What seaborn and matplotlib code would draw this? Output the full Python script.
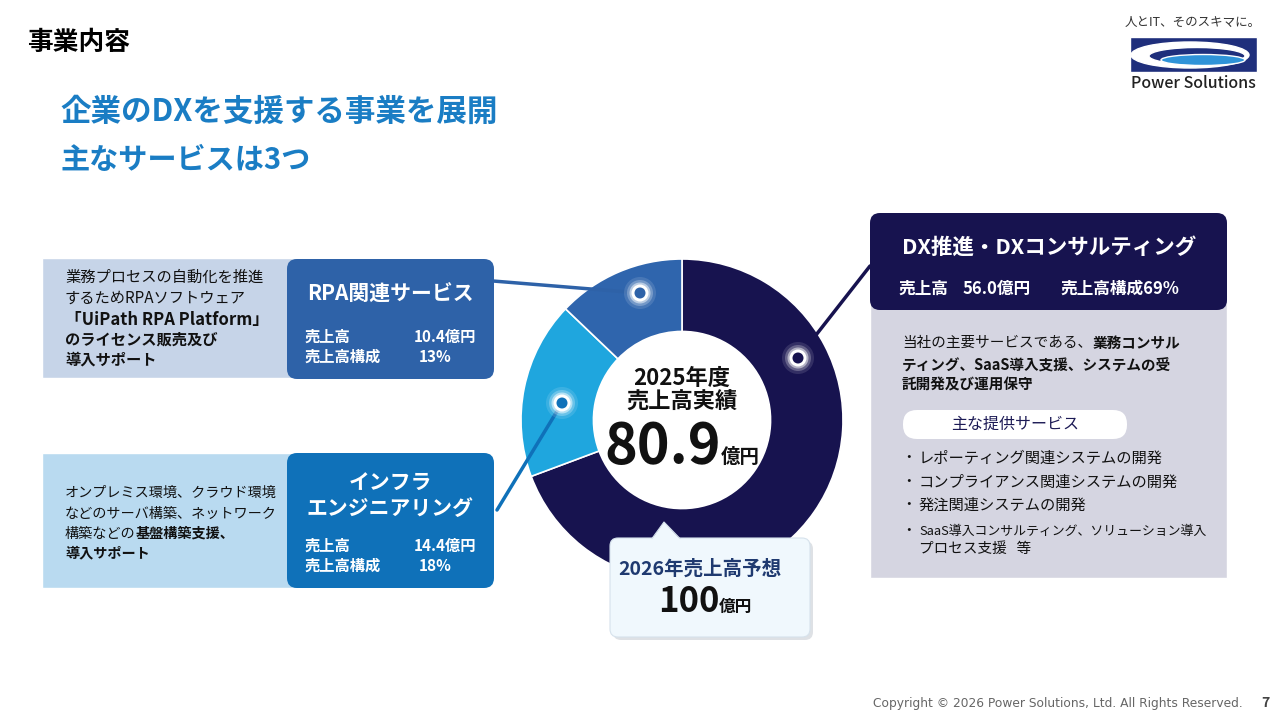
import matplotlib
matplotlib.use("Agg")
import matplotlib.pyplot as plt
import seaborn as sns
from matplotlib.patches import FancyBboxPatch, Rectangle, Circle, Ellipse, Polygon

# ---- data -------------------------------------------------------------
segments = ["DX推進・DXコンサルティング", "インフラエンジニアリング", "RPA関連サービス"]
sales = [56.0, 14.4, 10.4]          # 億円
shares = [69, 18, 13]               # %
seg_colors = ["#17134f", "#1fa6de", "#2f65ad"]
total_2025 = 80.9
forecast_2026 = 100

sns.set_theme(style="white")
plt.rcParams["font.family"] = ["Noto Sans CJK JP", "DejaVu Sans"]

W, H = 1280, 720
fig = plt.figure(figsize=(12.8, 7.2), dpi=100)
fig.patch.set_facecolor("white")


def pixel_axes():
    a = fig.add_axes([0, 0, 1, 1])
    a.set_xlim(0, W)
    a.set_ylim(H, 0)
    a.axis("off")
    a.patch.set_alpha(0)
    return a


def rbox(ax, x0, y0, x1, y1, color, r=8, z=1, **kw):
    p = FancyBboxPatch((x0, y0), x1 - x0, y1 - y0,
                       boxstyle=f"round,pad=0,rounding_size={r}",
                       facecolor=color, edgecolor=kw.pop("ec", "none"),
                       zorder=z, **kw)
    ax.add_patch(p)
    return p


def rich(ax, x, y, parts, ha="left", va="center", z=5):
    """parts: list of (text, size, weight, color) placed side by side"""
    rend = fig.canvas.get_renderer()
    inv = ax.transData.inverted()
    items = []
    cx = x
    for s, size, weight, color in parts:
        t = ax.text(cx, y, s, fontsize=size, fontweight=weight, color=color,
                    ha="left", va=va, zorder=z)
        bb = t.get_window_extent(renderer=rend)
        cx = inv.transform((bb.x1, bb.y0))[0]
        items.append(t)
    total = cx - x
    if ha == "center":
        for t in items:
            px, py = t.get_position()
            t.set_position((px - total / 2, py))
    return items


ax = pixel_axes()

# ---- headers ----------------------------------------------------------
ax.text(27, 42, "事業内容", fontsize=18.5, fontweight="bold", color="black", va="center")
ax.text(60, 112, "企業のDXを支援する事業を展開", fontsize=22, fontweight="bold",
        color="#1a7dc4", va="center")
ax.text(60, 160, "主なサービスは3つ", fontsize=21, fontweight="bold",
        color="#1a7dc4", va="center")

# logo
ax.text(1193, 22, "人とIT、そのスキマに。", fontsize=9, color="#333333",
        ha="center", va="center")
ax.add_patch(Rectangle((1130, 37), 127, 35, facecolor="#1f2f7c", zorder=2))
ax.add_patch(Ellipse((1190, 55), 118, 26, facecolor="white", zorder=3))
ax.add_patch(Ellipse((1197, 56), 96, 17, facecolor="#1f2f7c", zorder=4))
ax.add_patch(Ellipse((1203, 60), 84, 11, facecolor="#2f93d8", zorder=5))
ax.text(1193, 84, "Power Solutions", fontsize=11.5, fontweight="medium", color="#222222",
        ha="center", va="center")

# ---- left boxes -------------------------------------------------------
dark_rpa, dark_inf = "#2e62a8", "#0f71b9"
ax.add_patch(Rectangle((42, 258), 260, 120, facecolor="#c6d4e8", zorder=1))
rbox(ax, 287, 259, 494, 379, dark_rpa, r=10, z=2)
ax.add_patch(Rectangle((42, 453), 260, 135, facecolor="#b9daf0", zorder=1))
rbox(ax, 287, 453, 494, 588, dark_inf, r=10, z=2)

rpa_lines = [("業務プロセスの自動化を推進", "normal", 11), ("するためRPAソフトウェア", "normal", 11),
             ("「UiPath RPA Platform」", "bold", 12), ("のライセンス販売及び", "bold", 11),
             ("導入サポート", "bold", 11)]
for (s, w, fs), yy in zip(rpa_lines, [277, 298, 320, 340, 360]):
    ax.text(65, yy, s, fontsize=fs, fontweight=w, color="#111111", va="center")

inf_lines = [[("オンプレミス環境、クラウド環境", "normal")],
             [("などのサーバ構築、ネットワーク", "normal")],
             [("構築などの", "normal"), ("基盤構築支援、", "bold")],
             [("導入サポート", "bold")]]
for parts, yy in zip(inf_lines, [493, 514, 534, 553]):
    rich(ax, 65, yy, [(s, 10.2, w, "#111111") for s, w in parts])

ax.text(390, 294, segments[2], fontsize=15, fontweight="bold", color="white",
        ha="center", va="center")
ax.text(305, 337, "売上高", fontsize=11, fontweight="bold", color="white", va="center")
ax.text(476, 337, f"{sales[2]:.1f}億円", fontsize=11, fontweight="bold", color="white",
        ha="right", va="center")
ax.text(305, 357, "売上高構成", fontsize=11, fontweight="bold", color="white", va="center")
ax.text(452, 357, f"{shares[2]}%", fontsize=11, fontweight="bold", color="white",
        ha="right", va="center")

ax.text(390, 482, "インフラ", fontsize=15, fontweight="bold", color="white",
        ha="center", va="center")
ax.text(390, 508, "エンジニアリング", fontsize=15, fontweight="bold", color="white",
        ha="center", va="center")
ax.text(305, 546, "売上高", fontsize=11, fontweight="bold", color="white", va="center")
ax.text(476, 546, f"{sales[1]:.1f}億円", fontsize=11, fontweight="bold", color="white",
        ha="right", va="center")
ax.text(305, 566, "売上高構成", fontsize=11, fontweight="bold", color="white", va="center")
ax.text(452, 566, f"{shares[1]}%", fontsize=11, fontweight="bold", color="white",
        ha="right", va="center")

# ---- right box --------------------------------------------------------
ax.add_patch(Rectangle((870, 296), 357, 282, facecolor="#d5d5e1", zorder=1))
rbox(ax, 870, 213, 1227, 310, seg_colors[0], r=10, z=2)
ax.text(1049, 247, segments[0], fontsize=15.5, fontweight="bold", color="white",
        ha="center", va="center")
ax.text(898, 289, "売上高", fontsize=12, fontweight="bold", color="white", va="center")
ax.text(963, 289, f"{sales[0]:.1f}億円", fontsize=12, fontweight="bold", color="white",
        va="center")
ax.text(1060, 289, f"売上高構成{shares[0]}%", fontsize=12, fontweight="bold",
        color="white", va="center")

dx_desc = [[("当社の主要サービスである、", "normal"), ("業務コンサル", "bold")],
           [("ティング、SaaS導入支援、システムの受", "bold")],
           [("託開発及び運用保守", "bold")]]
for parts, yy in zip(dx_desc, [343, 365, 385]):
    rich(ax, 902, yy, [(s, 10.5, w, "#111111") for s, w in parts])

rbox(ax, 903, 410, 1127, 439, "white", r=14, z=2)
ax.text(1015, 424, "主な提供サービス", fontsize=11.5, color="#1c1a55",
        ha="center", va="center")
bullets = ["レポーティング関連システムの開発", "コンプライアンス関連システムの開発",
           "発注関連システムの開発", "SaaS導入コンサルティング、ソリューション導入",
           "プロセス支援   等"]
bullet_sizes = [11, 11, 11, 9.3, 10.5]
for i, (s, yy) in enumerate(zip(bullets, [458, 482, 505, 531, 549])):
    if i < 4:
        ax.text(909, yy, "・", fontsize=10.5, color="#111111", ha="center", va="center")
    ax.text(919, yy, s, fontsize=bullet_sizes[i], color="#111111", va="center")

# ---- donut ------------------------------------------------------------
cx, cy, R = 682, 420, 161
ax_pie = fig.add_axes([(cx - R) / W, (H - cy - R) / H, 2 * R / W, 2 * R / H])
ax_pie.pie(sales, colors=seg_colors, startangle=90, counterclock=False, radius=1,
           wedgeprops=dict(width=0.45, edgecolor="white", linewidth=1.2))
ax_pie.set_xlim(-1, 1)
ax_pie.set_ylim(-1, 1)
ax_pie.axis("off")

top = pixel_axes()

# leader lines and glowing dots
leaders = [((798, 358), (870, 266), seg_colors[0], seg_colors[0]),
           ((640, 293), (493, 281), dark_rpa, dark_rpa),
           ((562, 403), (497, 510), dark_inf, dark_inf)]
for (dx, dy), (ex, ey), lc, dc in leaders:
    top.plot([dx, ex], [dy, ey], color=lc, lw=2.5, zorder=3, solid_capstyle="round")
    for rr, al in [(16, 0.12), (13, 0.25), (10.5, 0.5), (8.5, 1.0)]:
        top.add_patch(Circle((dx, dy), rr, facecolor="white", alpha=al, lw=0, zorder=4))
    top.add_patch(Circle((dx, dy), 5.5, facecolor=dc, lw=0, zorder=5))

# centre labels
top.text(cx, 378, "2025年度", fontsize=16, fontweight="bold", color="#111111",
         ha="center", va="center")
top.text(cx, 402, "売上高実績", fontsize=16, fontweight="bold", color="#111111",
         ha="center", va="center")
rich(top, cx, 463, [(f"{total_2025}", 40, "bold", "#111111"),
                    ("億円", 14, "bold", "#111111")], ha="center", va="baseline")

# forecast callout
rbox(top, 613, 541, 813, 640, "#bfc5cc", r=8, z=6, alpha=0.5)
rbox(top, 610, 538, 810, 637, "#f0f8fd", r=8, z=7, ec="#d6e2ec", lw=0.8)
top.add_patch(Polygon([(652, 539), (664, 522), (680, 539)], closed=True,
                      facecolor="#f0f8fd", edgecolor="none", zorder=8))
top.plot([652, 664, 680], [538.5, 522, 538.5], color="#d6e2ec", lw=0.8, zorder=8)
top.text(700, 569, "2026年売上高予想", fontsize=14, fontweight="bold", color="#1f3a70",
         ha="center", va="center", zorder=9)
rich(top, 705, 612, [(f"{forecast_2026}", 25, "bold", "#111111"),
                     ("億円", 12, "bold", "#111111")], ha="center", va="baseline", z=9)

# footer
top.text(1243, 703, "Copyright © 2026 Power Solutions, Ltd. All Rights Reserved.",
         fontsize=8.8, family="DejaVu Sans", color="#666666", ha="right", va="center")
top.text(1265, 703, "7", fontsize=10, fontweight="bold", color="#444444",
         ha="center", va="center")

fig.savefig("out.png", dpi=100, facecolor="white")
